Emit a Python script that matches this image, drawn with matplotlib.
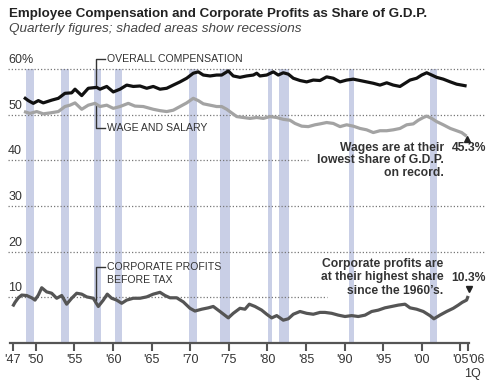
import matplotlib
matplotlib.use("Agg")
import matplotlib.pyplot as plt

plt.rcParams["font.family"] = ["Liberation Sans", "DejaVu Sans"]

# overall employee compensation, % of GDP
comp_years = [1948.46, 1949.02, 1949.67, 1950.32, 1950.96, 1952.05, 1952.91, 1953.77, 1954.64, 1955.07,
              1955.94, 1956.79, 1957.88, 1958.31, 1959.18, 1960.03, 1960.90, 1961.77, 1962.62, 1963.49,
              1964.36, 1965.21, 1966.08, 1966.95, 1967.80, 1968.67, 1969.54, 1970.39, 1971.04, 1971.69,
              1972.56, 1973.42, 1974.07, 1974.93, 1975.57, 1976.44, 1977.31, 1978.17, 1978.61, 1979.03,
              1979.90, 1980.76, 1981.40, 1982.05, 1982.70, 1983.35, 1984.22, 1985.08, 1985.94, 1986.81,
              1987.67, 1988.53, 1989.40, 1990.26, 1991.12, 1991.99, 1992.85, 1993.71, 1994.58, 1995.45,
              1996.30, 1997.17, 1997.82, 1998.47, 1999.33, 1999.98, 2000.63, 2001.28, 2001.92, 2002.78,
              2003.69, 2004.51, 2005.16, 2005.80]
comp_values = [53.8, 53.1, 52.5, 53.1, 52.6, 53.2, 53.6, 54.7, 54.8, 55.6,
               54.2, 55.8, 56.0, 55.6, 56.2, 55.0, 55.6, 56.5, 56.2, 56.3,
               55.8, 56.2, 55.6, 55.8, 56.5, 57.2, 58.0, 59.1, 59.4, 58.7,
               58.5, 58.7, 58.7, 59.6, 58.5, 58.2, 58.5, 58.7, 59.1, 58.5,
               58.7, 59.4, 58.7, 59.2, 58.9, 58.0, 57.5, 57.2, 57.6, 57.5,
               58.3, 58.0, 57.2, 57.6, 57.8, 57.5, 57.2, 56.9, 56.5, 57.0,
               56.5, 56.2, 56.9, 57.6, 58.0, 58.7, 59.2, 58.7, 58.2, 57.8,
               57.2, 56.7, 56.5, 56.3]

# wage and salary, % of GDP
wage_years = [1948.46, 1949.24, 1950.11, 1950.96, 1951.83, 1952.91, 1953.77, 1954.42, 1955.07, 1955.94,
              1956.79, 1957.66, 1958.31, 1959.18, 1960.03, 1960.90, 1961.97, 1962.84, 1963.92, 1965.21,
              1966.08, 1966.95, 1967.80, 1968.67, 1969.54, 1970.39, 1971.04, 1971.69, 1972.56, 1973.42,
              1974.07, 1974.72, 1975.37, 1976.02, 1976.87, 1977.74, 1978.61, 1979.46, 1980.33, 1981.20,
              1982.05, 1982.92, 1983.57, 1984.44, 1985.29, 1986.16, 1986.81, 1987.67, 1988.53, 1989.40,
              1990.26, 1991.12, 1991.99, 1992.85, 1993.71, 1994.58, 1995.45, 1996.30, 1997.17, 1998.04,
              1998.89, 1999.54, 2000.19, 2000.63, 2001.28, 2001.92, 2002.78, 2003.69, 2004.51, 2005.16,
              2005.80]
wage_values = [50.7, 50.3, 50.7, 50.2, 50.4, 50.7, 51.8, 52.1, 52.6, 51.2,
               52.1, 52.5, 51.8, 52.1, 51.4, 51.8, 52.5, 51.9, 51.8, 51.2,
               50.9, 50.7, 51.0, 51.8, 52.6, 53.6, 53.1, 52.4, 52.1, 51.8,
               51.8, 51.2, 50.4, 49.6, 49.4, 49.2, 49.4, 49.2, 49.6, 49.4,
               49.0, 48.8, 48.1, 47.5, 47.4, 47.8, 48.0, 48.3, 48.1, 47.4,
               47.8, 47.5, 47.0, 46.7, 46.1, 46.5, 46.5, 46.7, 47.0, 47.8,
               48.0, 48.8, 49.4, 49.7, 49.2, 48.5, 47.8, 47.0, 46.5, 46.1,
               45.3]

# corporate profits before tax, % of GDP
prof_years = [1947.00, 1947.30, 1947.73, 1948.17, 1948.81, 1949.46, 1949.89, 1950.32, 1950.76, 1951.40,
              1952.05, 1952.70, 1953.35, 1953.99, 1954.64, 1955.29, 1955.94, 1956.59, 1957.44, 1958.09,
              1958.74, 1959.25, 1959.82, 1960.47, 1961.12, 1961.77, 1962.62, 1963.49, 1964.36, 1965.21,
              1966.08, 1966.73, 1967.38, 1968.24, 1969.10, 1969.97, 1970.61, 1971.48, 1972.34, 1972.98,
              1973.85, 1974.93, 1975.57, 1976.44, 1977.09, 1977.65, 1978.39, 1979.25, 1979.90, 1980.55,
              1981.20, 1982.05, 1982.70, 1983.35, 1984.22, 1985.08, 1985.94, 1986.81, 1987.45, 1988.32,
              1989.18, 1990.05, 1990.91, 1991.77, 1992.64, 1993.50, 1994.36, 1995.22, 1996.09, 1996.95,
              1997.82, 1998.47, 1999.33, 2000.19, 2001.04, 2001.56, 2002.34, 2003.21, 2004.07, 2004.72,
              2005.23, 2005.80, 2006.00]
prof_values = [8.0, 8.9, 9.9, 10.5, 10.4, 9.9, 9.4, 10.5, 12.1, 11.2,
               10.9, 9.8, 10.4, 8.5, 9.8, 10.9, 10.7, 10.1, 9.8, 8.0,
               9.4, 10.7, 9.8, 9.4, 8.7, 9.4, 9.8, 9.8, 10.1, 10.7,
               11.1, 10.4, 9.9, 9.9, 9.0, 7.6, 7.0, 7.4, 7.7, 8.0,
               6.9, 5.5, 6.5, 7.6, 7.4, 8.5, 8.0, 7.2, 6.3, 5.5,
               6.0, 5.0, 5.3, 6.3, 6.9, 6.5, 6.3, 6.7, 6.7, 6.5,
               6.1, 5.8, 6.0, 5.8, 6.1, 6.9, 7.2, 7.7, 8.0, 8.3,
               8.5, 7.7, 7.4, 6.9, 6.0, 5.3, 6.1, 6.9, 7.6, 8.3,
               8.9, 9.4, 10.3]

recess_start = [1948.75, 1953.3, 1957.5, 1960.3, 1969.85, 1973.8, 1980.05, 1981.5, 1990.5, 2001.05]
recess_end = [1949.8, 1954.35, 1958.4, 1961.15, 1970.9, 1975.15, 1980.65, 1982.85, 1991.25, 2001.9]

tick_years = [1947, 1950, 1955, 1960, 1965, 1970, 1975, 1980, 1985, 1990, 1995, 2000, 2005, 2006]
tick_labels = ["'47", "'50", "'55", "'60", "'65", "'70", "'75", "'80", "'85", "'90", "'95", "'00", "'05", "'06"]
grid_levels = [10, 20, 30, 40, 50, 60]
grid_ends = [1987.7, 2008.2, 2008.2, 1985.3, 2008.2, 2008.2]
y_labels = ["10", "20", "30", "40", "50", "60%"]

txt = "#333333"

fig = plt.figure(figsize=(4.9, 3.89), dpi=100)
ax = fig.add_axes([0, 0, 1, 1])
ax.set_xlim(1945.355, 2008.83)
ax.set_ylim(-10.08, 75.14)

# recessions
ax.bar(recess_start, [60] * len(recess_start),
       width=[e - s for s, e in zip(recess_start, recess_end)],
       align="edge", color="#c9cfe6", zorder=1)

# dotted gridlines and their labels
for lev, end, lab in zip(grid_levels, grid_ends, y_labels):
    ax.hlines(lev, 1946.4, end, colors="#777777", linestyles=(0, (1, 1.6)), lw=0.9, zorder=2)
    ax.text(1946.4, lev + 2.0, lab, ha="left", va="center", fontsize=9, color=txt)

ax.plot(comp_years, comp_values, color="#111111", lw=2.3, zorder=4, solid_capstyle="butt")
ax.plot(wage_years, wage_values, color="#a3a3a3", lw=2.3, zorder=4, solid_capstyle="butt")
ax.plot(prof_years, prof_values, color="#555555", lw=2.3, zorder=4, solid_capstyle="butt")

# leader lines for series labels
lc = dict(color="#333333", lw=1, zorder=3)
ax.plot([1959.0, 1957.8, 1957.8], [62.2, 62.2, 56.0], **lc)
ax.plot([1957.8, 1957.8, 1959.0], [52.3, 47.0, 47.0], **lc)
ax.plot([1959.0, 1957.8, 1957.8], [16.7, 16.7, 9.4], **lc)
ax.text(1959.2, 62.2, "OVERALL COMPENSATION", fontsize=7.6, color=txt, va="center")
ax.text(1959.2, 47.0, "WAGE AND SALARY", fontsize=7.6, color=txt, va="center")
ax.text(1959.2, 16.7, "CORPORATE PROFITS", fontsize=7.6, color=txt, va="center")
ax.text(1959.2, 13.8, "BEFORE TAX", fontsize=7.6, color=txt, va="center")

# callouts
wage_note = ["Wages are at their", "lowest share of G.D.P.", "on record."]
for i, line in enumerate(wage_note):
    ax.text(2002.9, 42.8 - i * 2.8, line, ha="right", va="center", fontsize=8.7,
            fontweight="bold", color=txt)
ax.text(2008.3, 42.8, "45.3%", ha="right", va="center", fontsize=8.7, fontweight="bold", color=txt)
ax.plot([2005.9], [44.7], marker="^", color="#222222", ms=5, zorder=5)

prof_note = ["Corporate profits are", "at their highest share", "since the 1960\u2019s."]
for i, line in enumerate(prof_note):
    ax.text(2002.8, 17.4 - i * 3.0, line, ha="right", va="center", fontsize=8.7,
            fontweight="bold", color=txt)
ax.text(2008.3, 14.3, "10.3%", ha="right", va="center", fontsize=8.7, fontweight="bold", color=txt)
ax.plot([2006.1], [11.9], marker="v", color="#222222", ms=5, zorder=5)

# x axis
for side in ["top", "right", "left"]:
    ax.spines[side].set_visible(False)
ax.spines["bottom"].set_position(("data", 0))
ax.spines["bottom"].set_bounds(1946.65, 2006.15)
ax.spines["bottom"].set_color("#555555")
ax.spines["bottom"].set_linewidth(1.6)
ax.set_yticks([])
ax.set_xticks(tick_years)
ax.set_xticklabels(tick_labels)
ax.tick_params(axis="x", direction="out", length=5.5, width=1.5, color="#555555",
               labelsize=9, labelcolor=txt, pad=2.5)
ax.get_xticklabels()[-1].set_horizontalalignment("left")
ax.text(2006.6, -6.7, "1Q", ha="center", va="center", fontsize=9, color=txt)

fig.text(0.018, 0.964, "Employee Compensation and Corporate Profits as Share of G.D.P.",
         fontsize=9.6, fontweight="bold", color="#222222", va="center")
fig.text(0.018, 0.925, "Quarterly figures; shaded areas show recessions",
         fontsize=9.7, style="italic", color="#444444", va="center")

fig.savefig("out.png", dpi=100)
